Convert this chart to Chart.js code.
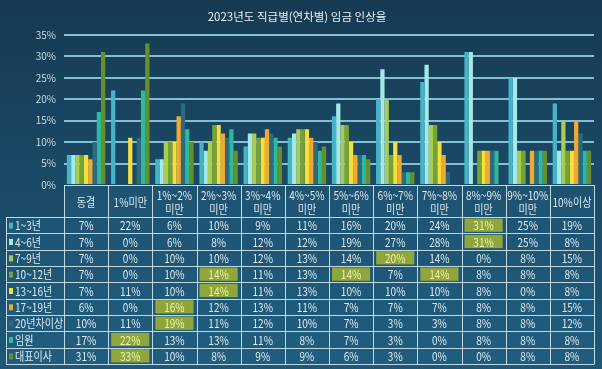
<!DOCTYPE html>
<html>
<head>
<meta charset="utf-8">
<script src="https://cdn.jsdelivr.net/npm/chart.js@4/dist/chart.umd.min.js"></script>
<style>
html,body{margin:0;padding:0;background:#1a4862;}
canvas{display:block;}
</style>
</head>
<body>
<canvas id="c" width="602" height="369"></canvas>
<script>
const chartTitle = '2023년도 직급별(연차별) 임금 인상율';
const categories = [['동결'],['1%미만'],['1%~2%','미만'],['2%~3%','미만'],['3%~4%','미만'],['4%~5%','미만'],['5%~6%','미만'],['6%~7%','미만'],['7%~8%','미만'],['8%~9%','미만'],['9%~10%','미만'],['10%이상']];
const yTicks = [0,5,10,15,20,25,30,35];

const seriesNames = ['1~3년','4~6년','7~9년','10~12년','13~16년','17~19년','20년차이상','임원','대표이사'];
const y1to3   = [7,22,6,10,9,11,16,20,24,31,25,19];
const y4to6   = [7,0,6,8,12,12,19,27,28,31,25,8];
const y7to9   = [7,0,10,10,12,13,14,20,14,0,8,15];
const y10to12 = [7,0,10,14,11,13,14,7,14,8,8,8];
const y13to16 = [7,11,10,14,11,13,10,10,10,8,0,8];
const y17to19 = [6,0,16,12,13,11,7,7,7,8,8,15];
const y20plus = [10,11,19,11,12,10,7,3,3,8,8,12];
const executive = [17,22,13,13,11,8,7,3,0,8,8,8];
const ceo     = [31,33,10,8,9,9,6,3,0,0,8,8];

const seriesValues = [y1to3,y4to6,y7to9,y10to12,y13to16,y17to19,y20plus,executive,ceo];
const seriesColors = ['#45b4c6','#a6e8e6','#a9cc55','#74a234','#f6de3e','#f2aa2e','#2b6a80','#2fb89c','#68902a'];

const FONT = '"Noto Sans CJK KR","Noto Sans",sans-serif';
Chart.defaults.font.family = FONT;

const SX = 0.84; // horizontal text compression to mimic condensed face
function txt(ctx, s, x, y, align){
  ctx.save();
  ctx.translate(x, y);
  ctx.scale(SX, 1);
  ctx.textAlign = align || 'center';
  ctx.fillText(s, 0, 0);
  ctx.restore();
}

const bgPlugin = {
  id:'bg',
  beforeDraw(chart){
    const {ctx,width,height} = chart;
    const g = ctx.createLinearGradient(0,0,0,height);
    g.addColorStop(0,'#163a53');
    g.addColorStop(0.5,'#1a4a67');
    g.addColorStop(1,'#1e5878');
    ctx.save();
    ctx.fillStyle = g;
    ctx.fillRect(0,0,width,height);
    ctx.restore();
  }
};

const tablePlugin = {
  id:'table',
  afterDraw(chart){
    const {ctx, scales:{x,y}} = chart;
    const n = categories.length;
    const colW = x.width / n;
    const gridLeft = x.left, gridRight = x.right;
    const headTop = y.bottom, headBottom = headTop + 32;
    const rowsBottom = chart.height - 5;
    const rows = seriesValues.length;
    const rowH = (rowsBottom - headBottom) / rows;
    const legendLeft = 6;
    ctx.save();
    ctx.fillStyle = 'rgba(45,115,150,0.22)';
    ctx.fillRect(gridLeft, headTop, gridRight-gridLeft, rowsBottom-headTop);
    ctx.fillRect(legendLeft, headBottom, gridLeft-legendLeft, rowsBottom-headBottom);
    seriesValues.forEach((vals,r)=>{
      const mx = Math.max(...vals);
      vals.forEach((v,c)=>{
        if(v===mx){
          const cx = x.getPixelForValue(c);
          const top = headBottom + r*rowH;
          ctx.fillStyle = '#8fa63c';
          ctx.fillRect(cx-colW/2+3, top+1.5, colW-6, rowH-3);
        }
      });
    });
    ctx.strokeStyle = 'rgba(222,238,245,0.85)';
    ctx.lineWidth = 1;
    ctx.beginPath();
    ctx.moveTo(gridLeft, headTop+0.5); ctx.lineTo(gridRight, headTop+0.5);
    for(let r=0;r<=rows;r++){
      const yy = Math.round(headBottom + r*rowH)+0.5;
      ctx.moveTo(legendLeft, yy); ctx.lineTo(gridRight, yy);
    }
    ctx.moveTo(legendLeft+0.5, headBottom); ctx.lineTo(legendLeft+0.5, rowsBottom);
    for(let c=0;c<=n;c++){
      const xx = Math.round(x.getPixelForValue(c) - colW/2)+0.5;
      ctx.moveTo(xx, headTop); ctx.lineTo(xx, rowsBottom+0.5);
    }
    ctx.stroke();
    ctx.fillStyle = '#dce9ef';
    ctx.font = '12px '+FONT;
    ctx.textBaseline = 'middle';
    categories.forEach((lab,c)=>{
      const cx = x.getPixelForValue(c);
      const mid = (headTop+headBottom)/2 + 1;
      if(lab.length===1){ txt(ctx, lab[0], cx, mid); }
      else { txt(ctx, lab[0], cx, mid-7); txt(ctx, lab[1], cx, mid+7); }
    });
    seriesValues.forEach((vals,r)=>{
      const cy = headBottom + r*rowH + rowH/2 + 0.5;
      const mx = Math.max(...vals);
      ctx.fillStyle = seriesColors[r];
      ctx.fillRect(legendLeft+3, cy-3, 4, 6);
      ctx.fillStyle = '#dce9ef';
      ctx.font = '12px '+FONT;
      txt(ctx, seriesNames[r], legendLeft+9, cy, 'left');
      vals.forEach((v,c)=>{
        ctx.fillStyle = v===mx ? '#eef2a6' : '#dce9ef';
        txt(ctx, v+'%', x.getPixelForValue(c), cy);
      });
    });
    ctx.restore();
  }
};

new Chart(document.getElementById('c'), {
  type:'bar',
  data:{
    labels: categories.map(c=>c.join(' ')),
    datasets: seriesValues.map((vals,i)=>({
      label: seriesNames[i],
      data: vals,
      backgroundColor: seriesColors[i],
      borderWidth: 0
    }))
  },
  options:{
    responsive:false,
    animation:false,
    layout:{padding:{left:0,right:8,top:0,bottom:184}},
    datasets:{bar:{categoryPercentage:0.87,barPercentage:1}},
    plugins:{
      legend:{display:false},
      tooltip:{enabled:false},
      title:{display:true,text:chartTitle,color:'#e8eff3',font:{size:11.5,weight:'normal',family:FONT},padding:{top:10,bottom:11}}
    },
    scales:{
      x:{
        display:false
      },
      y:{
        min:0,max:35,
        afterFit(scale){scale.width = 64;},
        afterBuildTicks(scale){scale.ticks = yTicks.map(v=>({value:v}));},
        grid:{drawTicks:false,lineWidth:2,color:(ctx)=>ctx.tick && ctx.tick.value===0 ? 'rgba(0,0,0,0)' : '#86bfd3'},
        border:{display:false},
        ticks:{padding:8,color:'#c9dde7',font:{size:10},callback:(v)=>v+'%'}
      }
    }
  },
  plugins:[bgPlugin,tablePlugin]
});
</script>
</body>
</html>
